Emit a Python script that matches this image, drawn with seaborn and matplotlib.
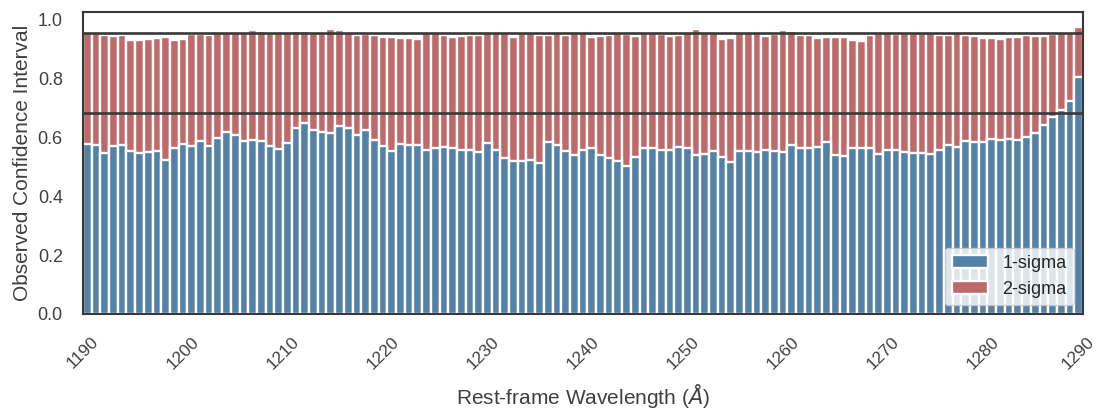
import numpy as np
import pandas as pd
import matplotlib
matplotlib.use("Agg")
import matplotlib.pyplot as plt
import matplotlib.transforms as mtransforms
import seaborn as sns

# Wavelength grid: 115 equal bins spanning 1190-1290 Angstrom
lam_min, lam_max, n_bins = 1190.0, 1290.0, 115
bin_width = (lam_max - lam_min) / n_bins
wavelength = lam_min + (np.arange(n_bins) + 0.5) * bin_width

# Fraction of trials whose truth falls within the 1-sigma interval
sigma1 = [
    0.577, 0.573, 0.545, 0.569, 0.573, 0.554, 0.548, 0.549, 0.552, 0.523,
    0.565, 0.577, 0.571, 0.588, 0.571, 0.596, 0.618, 0.608, 0.588, 0.591,
    0.587, 0.569, 0.560, 0.582, 0.630, 0.648, 0.625, 0.617, 0.614, 0.638,
    0.630, 0.606, 0.623, 0.592, 0.570, 0.552, 0.578, 0.574, 0.573, 0.556,
    0.565, 0.566, 0.565, 0.557, 0.556, 0.551, 0.580, 0.558, 0.531, 0.519,
    0.519, 0.521, 0.511, 0.584, 0.575, 0.552, 0.540, 0.557, 0.562, 0.540,
    0.531, 0.520, 0.504, 0.532, 0.565, 0.565, 0.557, 0.556, 0.566, 0.563,
    0.539, 0.544, 0.552, 0.532, 0.517, 0.552, 0.553, 0.549, 0.557, 0.553,
    0.549, 0.575, 0.565, 0.565, 0.566, 0.583, 0.540, 0.535, 0.562, 0.564,
    0.564, 0.543, 0.557, 0.555, 0.551, 0.548, 0.546, 0.543, 0.556, 0.572,
    0.566, 0.586, 0.583, 0.584, 0.595, 0.591, 0.594, 0.592, 0.600, 0.615,
    0.640, 0.668, 0.691, 0.724, 0.806,
]

# Fraction within the 2-sigma interval
sigma2 = [
    0.955, 0.955, 0.946, 0.944, 0.946, 0.931, 0.931, 0.932, 0.936, 0.940,
    0.931, 0.934, 0.949, 0.950, 0.947, 0.955, 0.955, 0.955, 0.955, 0.965,
    0.962, 0.955, 0.955, 0.955, 0.962, 0.962, 0.955, 0.955, 0.967, 0.965,
    0.955, 0.946, 0.949, 0.948, 0.941, 0.940, 0.938, 0.936, 0.934, 0.955,
    0.955, 0.946, 0.940, 0.944, 0.948, 0.946, 0.955, 0.955, 0.955, 0.941,
    0.955, 0.955, 0.948, 0.946, 0.955, 0.946, 0.955, 0.955, 0.941, 0.944,
    0.946, 0.955, 0.949, 0.942, 0.955, 0.955, 0.949, 0.944, 0.948, 0.955,
    0.968, 0.955, 0.955, 0.932, 0.936, 0.955, 0.955, 0.955, 0.945, 0.949,
    0.965, 0.962, 0.947, 0.948, 0.936, 0.940, 0.941, 0.941, 0.931, 0.928,
    0.948, 0.955, 0.955, 0.949, 0.955, 0.955, 0.955, 0.955, 0.948, 0.948,
    0.955, 0.948, 0.944, 0.938, 0.938, 0.932, 0.940, 0.940, 0.946, 0.944,
    0.944, 0.949, 0.955, 0.955, 0.973,
]

# Expected Gaussian coverage levels
expected = [0.6827, 0.9545]
x_ticks = [1190, 1200, 1210, 1220, 1230, 1240, 1250, 1260, 1270, 1280, 1290]

df = pd.DataFrame({"wavelength": wavelength, "sigma1": sigma1, "sigma2": sigma2})

sns.set_theme(style="white")
plt.rcParams["font.family"] = ["Liberation Sans", "DejaVu Sans"]

fig = plt.figure(figsize=(10.97, 4.08), dpi=100)
ax = fig.add_axes([83 / 1097, 94 / 408, 1000 / 1097, 302 / 408])

bar_kw = dict(native_scale=True, orient="x", width=1.0, edgecolor="white",
              linewidth=1.7, errorbar=None, ax=ax)
sns.barplot(data=df, x="wavelength", y="sigma2", color="indianred",
            label="2-sigma", **bar_kw)
sns.barplot(data=df, x="wavelength", y="sigma1", color="steelblue",
            label="1-sigma", **bar_kw)

for level in expected:
    ax.axhline(level, color="0.22", linewidth=1.9, zorder=5)

ax.set_xlim(lam_min, lam_max)
ax.set_ylim(0, 1.025)
ax.set_xticks(x_ticks)
ax.set_xticklabels([str(t) for t in x_ticks], rotation=45, fontsize=12.5)
ax.set_yticks([0.0, 0.2, 0.4, 0.6, 0.8, 1.0])
ax.set_yticklabels(["0.0", "0.2", "0.4", "0.6", "0.8", "1.0"], fontsize=13)
ax.tick_params(axis="both", length=0, pad=14.5, colors="0.25")

# keep the last rotated label inside the canvas
last = ax.get_xticklabels()[-1]
last.set_transform(last.get_transform()
                   + mtransforms.ScaledTranslation(-5 / 100, 0, fig.dpi_scale_trans))

ax.set_xlabel(r"Rest-frame Wavelength ($\AA$)", fontsize=15, color="0.25",
              labelpad=7)
ax.set_ylabel("Observed Confidence Interval", fontsize=15, color="0.25",
              labelpad=4)
for sp in ax.spines.values():
    sp.set_color("0.22")
    sp.set_linewidth(1.5)

handles, labels = ax.get_legend_handles_labels()
order = [labels.index("1-sigma"), labels.index("2-sigma")]
ax.legend([handles[i] for i in order], [labels[i] for i in order],
          loc="lower right", fontsize=13, frameon=True)

fig.savefig("out.png", dpi=100)
